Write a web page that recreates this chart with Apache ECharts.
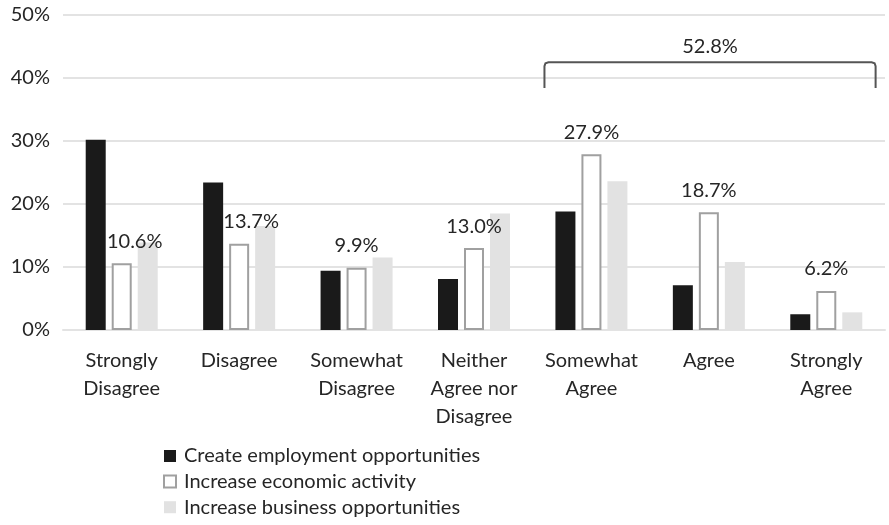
<!DOCTYPE html>
<html>
<head>
<meta charset="utf-8">
<script src="https://cdn.jsdelivr.net/npm/echarts@6/dist/echarts.min.js"></script>
<style>
  html, body { margin: 0; padding: 0; background: #ffffff; }
  #chart { width: 889px; height: 525px; }
</style>
</head>
<body>
<div id="chart"></div>
<script>
// Survey responses by agreement level
const categories = [
  'Strongly\nDisagree', 'Disagree', 'Somewhat\nDisagree',
  'Neither\nAgree nor\nDisagree', 'Somewhat\nAgree', 'Agree', 'Strongly\nAgree'
];
const seriesNames = [
  'Create employment opportunities',
  'Increase economic activity',
  'Increase business opportunities'
];
const employment = [30.2, 23.4, 9.4, 8.1, 18.8, 7.1, 2.5];
const economic   = [10.6, 13.7, 9.9, 13.0, 27.9, 18.7, 6.2];
const business   = [13.9, 16.5, 11.5, 18.5, 23.6, 10.8, 2.8];
const yTicks = [0, 10, 20, 30, 40, 50];

// Agreement bracket: spans the three "agree" categories
const agreeRange = [4, 6];
const bracketTop = 42.5;
const bracketBottom = 38.4;

// horizontal nudge for the value labels that sit next to a taller bar
const labelShift = [13, 12, 0, 0, 0, 0, 0];

const FONT = 'Lato, "Open Sans", sans-serif';
const TEXT = '#262626';

const agreeTotal = economic.slice(agreeRange[0], agreeRange[1] + 1)
  .reduce((a, b) => a + b, 0);

const chart = echarts.init(document.getElementById('chart'), null, { renderer: 'canvas' });

chart.setOption({
  animation: false,
  backgroundColor: '#ffffff',
  textStyle: { fontFamily: FONT, color: TEXT },
  grid: { left: 63, right: 4, top: 15, bottom: 195, containLabel: false },
  legend: {
    orient: 'vertical',
    left: 163,
    top: 446,
    padding: 0,
    height: 80,
    itemWidth: 12,
    itemHeight: 12,
    itemGap: 5.6,
    icon: 'rect',
    data: seriesNames,
    textStyle: { fontFamily: FONT, fontSize: 20, color: TEXT, lineHeight: 20, padding: [0, 0, 0, 3] }
  },
  xAxis: {
    type: 'category',
    data: categories,
    axisLine: { show: true, lineStyle: { color: '#e3e3e3', width: 2 } },
    axisTick: { show: false },
    axisLabel: {
      interval: 0,
      margin: 17,
      fontFamily: FONT,
      fontSize: 20,
      lineHeight: 28,
      color: TEXT,
      align: 'center'
    }
  },
  yAxis: {
    type: 'value',
    min: yTicks[0],
    max: yTicks[yTicks.length - 1],
    interval: yTicks[1] - yTicks[0],
    axisLine: { show: false },
    axisTick: { show: false },
    splitLine: { lineStyle: { color: '#e3e3e3', width: 2 } },
    axisLabel: {
      formatter: '{value}%',
      margin: 13,
      fontFamily: FONT,
      fontSize: 20,
      color: TEXT
    }
  },
  series: [
    {
      name: seriesNames[0],
      type: 'bar',
      barWidth: 20,
      barGap: '30%',
      data: employment,
      itemStyle: { color: '#1a1a1a' }
    },
    {
      name: seriesNames[1],
      type: 'bar',
      barWidth: 20,
      barGap: '30%',
      z: 3,
      data: economic.map((v, i) => ({
        value: v,
        label: { offset: [labelShift[i], 0] }
      })),
      itemStyle: { color: '#ffffff', borderColor: '#a0a0a0', borderWidth: 2 },
      label: {
        show: true,
        position: 'top',
        distance: 12,
        formatter: p => p.value.toFixed(1) + '%',
        fontFamily: FONT,
        fontSize: 20,
        color: TEXT
      }
    },
    {
      name: seriesNames[2],
      type: 'bar',
      barWidth: 20,
      barGap: '30%',
      z: 2,
      data: business,
      itemStyle: { color: '#e2e2e2' }
    },
    {
      type: 'custom',
      silent: true,
      z: 5,
      data: [[agreeRange[0], agreeRange[1], bracketTop, bracketBottom]],
      renderItem: (params, api) => {
        const band = api.size([1, 0])[0];
        const left = api.coord([api.value(0), api.value(2)]);
        const right = api.coord([api.value(1), api.value(2)]);
        const bottomY = api.coord([api.value(0), api.value(3)])[1];
        const x1 = left[0] - band * 0.4;
        const x2 = right[0] + band * 0.42;
        const y1 = left[1];
        const r = 4;
        return {
          type: 'group',
          children: [
            {
              type: 'polyline',
              shape: {
                points: [
                  [x1, bottomY], [x1, y1 + r], [x1 + 1, y1 + 1], [x1 + r, y1],
                  [x2 - r, y1], [x2 - 1, y1 + 1], [x2, y1 + r], [x2, bottomY]
                ]
              },
              style: { stroke: '#555555', lineWidth: 2, fill: null }
            },
            {
              type: 'text',
              x: (x1 + x2) / 2,
              y: y1 - 16,
              style: {
                text: agreeTotal.toFixed(1) + '%',
                fill: TEXT,
                font: '20px ' + FONT,
                align: 'center',
                verticalAlign: 'middle'
              }
            }
          ]
        };
      }
    }
  ]
});
</script>
</body>
</html>
